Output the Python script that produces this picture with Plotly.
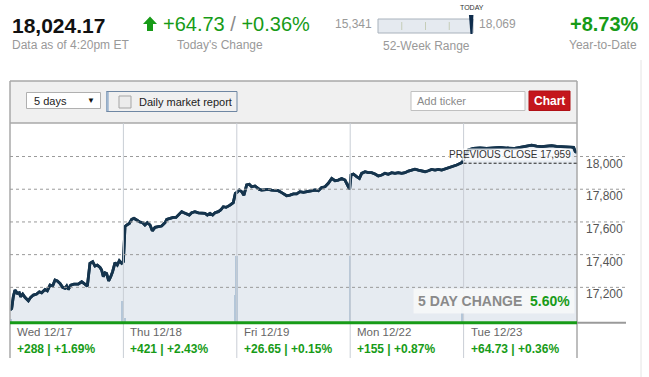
import plotly.graph_objects as go

# ---------------- data ----------------
last_value = 18024.17
today_change_pts = "+64.73"
today_change_pct = "+0.36%"
ytd_change = "+8.73%"
week52_low = 15341
week52_high = 18069
prev_close = 17959
five_day_change = "5.60%"
data_time = "Data as of 4:20pm ET"

day_labels = ["Wed 12/17", "Thu 12/18", "Fri 12/19", "Mon 12/22", "Tue 12/23"]
day_change_pts = ["+288", "+421", "+26.65", "+155", "+64.73"]
day_change_pct = ["+1.69%", "+2.43%", "+0.15%", "+0.87%", "+0.36%"]

y_ticks = [17200, 17400, 17600, 17800, 18000]

# intraday time in trading-day units (0 = Wed open, 5 = Tue close)
t_wed = [0.0, 0.015, 0.029, 0.044, 0.065, 0.082, 0.094, 0.112, 0.132, 0.162, 0.182, 0.206,
         0.235, 0.259, 0.279, 0.309, 0.329, 0.353, 0.376, 0.397, 0.417, 0.441, 0.464, 0.485,
         0.500, 0.514, 0.535, 0.564, 0.602, 0.632, 0.652, 0.682, 0.705, 0.729, 0.749, 0.770,
         0.794, 0.808, 0.823, 0.838, 0.852, 0.870, 0.888, 0.905, 0.926, 0.946, 0.964, 0.985, 1.0]
p_wed = [17062, 17071, 17143, 17183, 17163, 17167, 17143, 17159, 17139, 17118, 17139, 17153,
         17159, 17173, 17167, 17187, 17179, 17214, 17208, 17245, 17239, 17224, 17200, 17194,
         17208, 17187, 17214, 17220, 17220, 17234, 17224, 17208, 17347, 17357, 17330, 17336,
         17322, 17306, 17265, 17289, 17285, 17239, 17265, 17296, 17351, 17336, 17363, 17347, 17357]

t_thu = [1.014, 1.029, 1.052, 1.073, 1.093, 1.117, 1.140, 1.170, 1.190, 1.211, 1.235, 1.255,
         1.279, 1.308, 1.337, 1.367, 1.382, 1.411, 1.440, 1.464, 1.484, 1.514, 1.534, 1.558,
         1.581, 1.602, 1.631, 1.661, 1.690, 1.720, 1.740, 1.764, 1.787, 1.808, 1.837, 1.858,
         1.881, 1.905, 1.940, 1.969, 1.987, 2.0]
p_thu = [17571, 17581, 17591, 17616, 17622, 17612, 17601, 17595, 17581, 17595, 17581, 17546,
         17567, 17571, 17575, 17595, 17616, 17622, 17628, 17628, 17642, 17663, 17656, 17648,
         17642, 17656, 17663, 17656, 17652, 17652, 17642, 17652, 17642, 17656, 17663, 17673,
         17693, 17689, 17703, 17718, 17775, 17780]

t_fri = [2.022, 2.043, 2.063, 2.087, 2.110, 2.131, 2.160, 2.199, 2.219, 2.249, 2.278, 2.307,
         2.337, 2.366, 2.396, 2.440, 2.469, 2.499, 2.528, 2.557, 2.587, 2.616, 2.646, 2.690,
         2.719, 2.748, 2.778, 2.807, 2.837, 2.866, 2.895, 2.925, 2.954, 2.978, 2.995]
p_fri = [17795, 17785, 17764, 17826, 17830, 17815, 17820, 17799, 17795, 17799, 17799, 17795,
         17795, 17791, 17779, 17760, 17764, 17771, 17771, 17785, 17781, 17785, 17789, 17795,
         17791, 17811, 17815, 17836, 17866, 17852, 17856, 17866, 17856, 17826, 17799]

t_mon = [3.007, 3.028, 3.057, 3.081, 3.101, 3.131, 3.160, 3.189, 3.219, 3.248, 3.278, 3.307,
         3.336, 3.366, 3.395, 3.424, 3.454, 3.483, 3.513, 3.542, 3.571, 3.601, 3.630, 3.660,
         3.689, 3.718, 3.748, 3.777, 3.807, 3.836, 3.865, 3.900, 3.939, 3.983]
p_mon = [17887, 17893, 17877, 17866, 17897, 17907, 17901, 17901, 17893, 17881, 17887, 17897,
         17891, 17901, 17897, 17901, 17897, 17901, 17911, 17917, 17923, 17917, 17913, 17907,
         17913, 17921, 17917, 17921, 17917, 17923, 17928, 17936, 17948, 17962]

t_tue = [4.012, 4.042, 4.086, 4.145, 4.203, 4.262, 4.321, 4.380, 4.438, 4.497, 4.556, 4.600,
         4.644, 4.688, 4.732, 4.776, 4.821, 4.865, 4.894, 4.970, 4.985, 5.0]
p_tue = [17999, 18040, 18049, 18052, 18049, 18052, 18056, 18052, 18049, 18056, 18062, 18069,
         18064, 18060, 18064, 18067, 18062, 18060, 18058, 18056, 18030, 18024]

vol_t = [0.01, 0.995, 1.012, 1.985, 2.0, 2.998, 3.99]
vol = [6, 33, 7, 42, 100, 100, 30]

# ---------------- layout helpers (page pixel coordinates) ----------------
W, H = 649, 377
PL, PR, PT, PB = 10, 577, 123, 323   # plot area in page pixels
n_days = len(day_labels)


def px(x):
    return (x - PL) / (PR - PL)


def py(y):
    return (PB - y) / (PB - PT)


FONT = "Arial, 'Liberation Sans', sans-serif"
GREEN = "#179b17"
GRAY = "#999999"
NAVY = "#15344d"

t_all = t_wed + t_thu + t_fri + t_mon + t_tue
p_all = p_wed + p_thu + p_fri + p_mon + p_tue

fig = go.Figure()
fig.add_trace(go.Scatter(x=t_all, y=p_all, mode="lines", fill="tozeroy",
                         fillcolor="#e6ebf1", line=dict(color=NAVY, width=2.8),
                         hoverinfo="skip", showlegend=False))
fig.add_trace(go.Bar(x=vol_t, y=vol, width=0.016, marker=dict(color="#b4c6d8", line=dict(width=0)),
                     yaxis="y2", hoverinfo="skip", showlegend=False))
fig.add_trace(go.Scatter(x=t_all, y=p_all, mode="lines", line=dict(color=NAVY, width=2.8),
                         hoverinfo="skip", showlegend=False))

shapes = []
annotations = []

# control bar background + panel borders
shapes.append(dict(type="rect", xref="paper", yref="paper", x0=px(PL), x1=px(PR), y0=py(123), y1=py(81),
                   fillcolor="#f0f0f0", line=dict(width=0), layer="below"))
for (x0, y0, x1, y1) in [(PL, 81, PR, 81), (PL, 81, PL, 358), (PR, 81, PR, 358), (PL, 123, PR, 123)]:
    shapes.append(dict(type="line", xref="paper", yref="paper", x0=px(x0), x1=px(x1), y0=py(y0), y1=py(y1),
                       line=dict(color="#a9a9a9", width=1.5), layer="above"))
# faint right page border
shapes.append(dict(type="line", xref="paper", yref="paper", x0=px(641), x1=px(641), y0=py(60), y1=py(377),
                   line=dict(color="#e4e4e4", width=1), layer="below"))

# horizontal dotted gridlines (extend under the y labels)
for v in y_ticks:
    shapes.append(dict(type="line", xref="paper", yref="y", x0=0, x1=px(627), y0=v, y1=v,
                       line=dict(color="#9a9a9a", width=1, dash="dot"), layer="above"))
    annotations.append(dict(xref="paper", yref="y", x=px(625), y=v, yshift=-7, text=f"{v:,}",
                            showarrow=False, xanchor="right", yanchor="middle",
                            font=dict(size=12, color="#555", family=FONT)))

# day separators
for i in range(1, n_days):
    shapes.append(dict(type="line", xref="paper", yref="paper", x0=i / n_days, x1=i / n_days,
                       y0=py(358), y1=1, line=dict(color="#c9ced5", width=1), layer="above"))

# baseline
shapes.append(dict(type="line", xref="paper", yref="paper", x0=px(PR), x1=px(626), y0=py(322.7), y1=py(322.7),
                   line=dict(color="#9a9a9a", width=2), layer="above"))
shapes.append(dict(type="line", xref="paper", yref="paper", x0=0, x1=1, y0=py(322.7), y1=py(322.7),
                   line=dict(color=GREEN, width=3), layer="above"))

# previous close
shapes.append(dict(type="line", xref="x", yref="y", x0=n_days - 1, x1=n_days, y0=prev_close, y1=prev_close,
                   line=dict(color="#222", width=1, dash="3px,2px"), layer="above"))
annotations.append(dict(xref="x", yref="y", x=n_days, xshift=-5, y=prev_close, yshift=2,
                        text=f"PREVIOUS CLOSE {prev_close:,}", showarrow=False,
                        xanchor="right", yanchor="bottom", bgcolor="rgba(255,255,255,0.75)", borderpad=0,
                        font=dict(size=10, color="#333", family=FONT)))

# 5 day change box
annotations.append(dict(xref="x", yref="paper", x=n_days, xshift=-2, y=py(300.5),
                        text=f"<b><span style='color:#8a8a8a'>5 DAY CHANGE</span>&nbsp;&nbsp;"
                             f"<span style='color:{GREEN}'>{five_day_change}</span></b>",
                        showarrow=False, xanchor="right", yanchor="middle",
                        bgcolor="rgba(246,247,249,0.92)", borderpad=4,
                        font=dict(size=14, family=FONT)))

# day labels below
for i, (lab, pts, pct) in enumerate(zip(day_labels, day_change_pts, day_change_pct)):
    annotations.append(dict(xref="x", yref="paper", x=i, xshift=5, y=py(332), text=lab, showarrow=False,
                            xanchor="left", yanchor="middle", font=dict(size=11.5, color="#666", family=FONT)))
    annotations.append(dict(xref="x", yref="paper", x=i, xshift=5, y=py(349), text=f"<b>{pts} | {pct}</b>",
                            showarrow=False, xanchor="left", yanchor="middle",
                            font=dict(size=12, color=GREEN, family=FONT)))

# ---------------- header ----------------
annotations.append(dict(xref="paper", yref="paper", x=px(10), y=py(25), text=f"<b>{last_value:,.2f}</b>",
                        showarrow=False, xanchor="left", yanchor="middle",
                        font=dict(size=21, color="#111", family=FONT)))
annotations.append(dict(xref="paper", yref="paper", x=px(10), y=py(45), text=data_time, showarrow=False,
                        xanchor="left", yanchor="middle", font=dict(size=12, color=GRAY, family=FONT)))
ax = 150
shapes.append(dict(type="path", xref="paper", yref="paper",
                   path=f"M {px(ax-7)},{py(24)} L {px(ax)},{py(16.5)} L {px(ax+7)},{py(24)} "
                        f"L {px(ax+3)},{py(24)} L {px(ax+3)},{py(31)} L {px(ax-3)},{py(31)} "
                        f"L {px(ax-3)},{py(24)} Z",
                   fillcolor=GREEN, line=dict(width=0), layer="above"))
annotations.append(dict(xref="paper", yref="paper", x=px(161), y=py(24),
                        text=f"<span style='color:{GREEN}'>{today_change_pts}</span>"
                             f"<span style='color:#8a8a8a'> / </span>"
                             f"<span style='color:{GREEN}'>{today_change_pct}</span>",
                        showarrow=False, xanchor="left", yanchor="middle", font=dict(size=20, family=FONT)))
annotations.append(dict(xref="paper", yref="paper", x=px(220), y=py(45), text="Today's Change", showarrow=False,
                        xanchor="center", yanchor="middle", font=dict(size=12, color=GRAY, family=FONT)))

# 52-week range
bx0, bx1 = 378, 473
annotations.append(dict(xref="paper", yref="paper", x=px(374), y=py(24), text=f"{week52_low:,}",
                        showarrow=False, xanchor="right", yanchor="middle",
                        font=dict(size=12, color=GRAY, family=FONT)))
annotations.append(dict(xref="paper", yref="paper", x=px(477), y=py(24), text=f"{week52_high:,}",
                        showarrow=False, xanchor="left", yanchor="middle",
                        font=dict(size=12, color=GRAY, family=FONT)))
shapes.append(dict(type="rect", xref="paper", yref="paper", x0=px(bx0), x1=px(bx1), y0=py(33), y1=py(19),
                   fillcolor="#e5eaf0", line=dict(color="#a9b2bc", width=1), layer="above"))
for k in (1, 2, 3):
    xx = bx0 + (bx1 - bx0) * k / 4
    shapes.append(dict(type="line", xref="paper", yref="paper", x0=px(xx), x1=px(xx), y0=py(22), y1=py(30),
                       line=dict(color="#c5cdb8", width=1), layer="above"))
frac = (last_value - week52_low) / (week52_high - week52_low)
mx = bx0 + (bx1 - bx0) * frac
shapes.append(dict(type="path", xref="paper", yref="paper",
                   path=f"M {px(mx-2.5)},{py(15)} L {px(mx+2)},{py(15)} L {px(mx+1)},{py(34)} "
                        f"L {px(mx-1)},{py(34)} Z",
                   fillcolor="#0e2c4c", line=dict(width=0), layer="above"))
annotations.append(dict(xref="paper", yref="paper", x=px(mx + 1), y=py(7.5), text="TODAY", showarrow=False,
                        xanchor="center", yanchor="middle", font=dict(size=7, color="#333", family=FONT)))
annotations.append(dict(xref="paper", yref="paper", x=px(426), y=py(46), text="52-Week Range", showarrow=False,
                        xanchor="center", yanchor="middle", font=dict(size=12, color=GRAY, family=FONT)))

# YTD
annotations.append(dict(xref="paper", yref="paper", x=px(604), y=py(24), text=f"<b>{ytd_change}</b>",
                        showarrow=False, xanchor="center", yanchor="middle",
                        font=dict(size=20, color=GREEN, family=FONT)))
annotations.append(dict(xref="paper", yref="paper", x=px(603), y=py(45), text="Year-to-Date", showarrow=False,
                        xanchor="center", yanchor="middle", font=dict(size=12, color=GRAY, family=FONT)))

# ---------------- control bar widgets ----------------
shapes.append(dict(type="rect", xref="paper", yref="paper", x0=px(26.5), x1=px(100.5), y0=py(108.5), y1=py(92.5),
                   fillcolor="white", line=dict(color="#b0b0b0", width=1), layer="above"))
annotations.append(dict(xref="paper", yref="paper", x=px(32), y=py(100.5), text="5 days", showarrow=False,
                        xanchor="left", yanchor="middle", font=dict(size=11, color="#222", family=FONT)))
annotations.append(dict(xref="paper", yref="paper", x=px(91), y=py(100.5), text="▼", showarrow=False,
                        xanchor="center", yanchor="middle", font=dict(size=8, color="#111", family=FONT)))
shapes.append(dict(type="rect", xref="paper", yref="paper", x0=px(106.5), x1=px(237), y0=py(111.5), y1=py(91.5),
                   fillcolor="#f0f0f0", line=dict(color="#6f87a3", width=1), layer="above"))
shapes.append(dict(type="line", xref="paper", yref="paper", x0=px(107.5), x1=px(107.5), y0=py(111), y1=py(92),
                   line=dict(color="#9fb6cf", width=2.5), layer="above"))
shapes.append(dict(type="rect", xref="paper", yref="paper", x0=px(119), x1=px(131), y0=py(108), y1=py(96),
                   fillcolor="#ececec", line=dict(color="#a5a5a5", width=1), layer="above"))
annotations.append(dict(xref="paper", yref="paper", x=px(137), y=py(101.5), text="Daily market report",
                        showarrow=False, xanchor="left", yanchor="middle",
                        font=dict(size=11, color="#222", family=FONT)))
shapes.append(dict(type="rect", xref="paper", yref="paper", x0=px(411), x1=px(525), y0=py(110.5), y1=py(91.5),
                   fillcolor="white", line=dict(color="#c0c0c0", width=1), layer="above"))
annotations.append(dict(xref="paper", yref="paper", x=px(415), y=py(101), text="Add ticker", showarrow=False,
                        xanchor="left", yanchor="middle", font=dict(size=11, color="#8a8a8a", family=FONT)))
shapes.append(dict(type="rect", xref="paper", yref="paper", x0=px(529), x1=px(570), y0=py(110.5), y1=py(91),
                   fillcolor="#c4161c", line=dict(color="#b01015", width=1), layer="above"))
annotations.append(dict(xref="paper", yref="paper", x=px(549.5), y=py(100.5), text="<b>Chart</b>",
                        showarrow=False, xanchor="center", yanchor="middle",
                        font=dict(size=12, color="white", family=FONT)))

fig.update_layout(
    width=W, height=H,
    margin=dict(l=PL, r=W - PR, t=PT, b=H - PB, pad=0),
    paper_bgcolor="white", plot_bgcolor="white",
    showlegend=False, bargap=0,
    xaxis=dict(range=[0, n_days], showgrid=False, zeroline=False, showticklabels=False, ticks="",
               fixedrange=True),
    yaxis=dict(range=[16982, 18205], showgrid=False, zeroline=False, showticklabels=False, ticks="",
               fixedrange=True),
    yaxis2=dict(range=[0, 300], overlaying="y", visible=False, fixedrange=True),
    shapes=shapes, annotations=annotations,
    font=dict(family=FONT),
)

# remove the default page margin so the figure sits at the window's top-left corner
fig.write_html("out.html", config={"displayModeBar": False},
               post_script="document.body.style.margin='0';document.body.style.overflow='hidden';")
